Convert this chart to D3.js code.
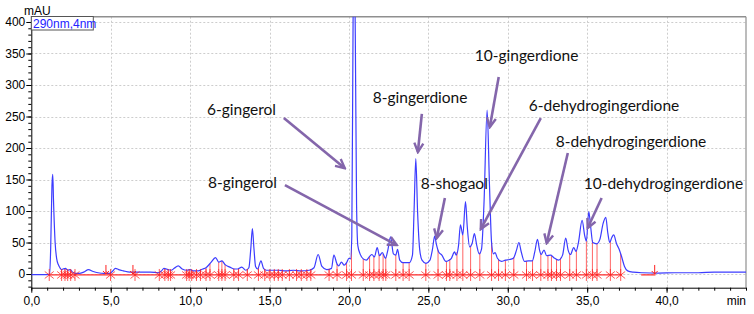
<!DOCTYPE html>
<html><head><meta charset="utf-8">
<script src="https://cdn.jsdelivr.net/npm/d3@7"></script>
<style>
html,body{margin:0;padding:0;background:#fff;}
svg{display:block;}
</style></head>
<body><svg id="chart" width="754" height="314"></svg>
<script>
// ---- data ----
const traceTime = [0.0,0.5,1.0,1.15,1.22,1.3,1.35,1.4,1.5,1.6,1.7,1.8,1.9,2.0,2.15,2.3,2.45,2.6,2.8,3.0,3.3,3.6,3.9,4.2,4.6,4.9,5.1,5.3,5.5,5.8,6.2,6.6,7.0,7.5,8.0,8.2,8.35,8.6,8.8,9.0,9.25,9.5,9.8,10.0,10.2,10.5,10.8,11.0,11.3,11.6,11.8,12.0,12.2,12.5,12.8,13.0,13.25,13.5,13.7,13.82,13.92,14.02,14.12,14.25,14.46,14.62,14.8,15.2,15.6,16.0,16.5,17.0,17.5,17.8,18.06,18.3,18.6,18.9,19.05,19.25,19.35,19.53,19.7,19.85,20.0,20.1,20.18,20.26,20.33,20.4,20.48,20.56,20.7,20.9,21.1,21.3,21.45,21.6,21.78,21.92,22.1,22.3,22.45,22.62,22.8,22.95,23.06,23.2,23.4,23.8,24.0,24.1,24.21,24.32,24.45,24.6,24.85,25.1,25.25,25.4,25.5,25.65,25.85,26.1,26.3,26.45,26.65,26.75,26.9,27.02,27.17,27.34,27.45,27.6,27.75,27.9,28.05,28.2,28.35,28.5,28.7,28.85,28.98,29.1,29.2,29.35,29.6,29.85,30.1,30.35,30.55,30.7,30.85,31.05,31.3,31.55,31.7,31.87,32.0,32.1,32.28,32.45,32.7,32.9,33.2,33.45,33.65,33.8,33.95,34.15,34.3,34.45,34.68,34.85,34.95,35.1,35.22,35.35,35.6,35.8,36.0,36.17,36.3,36.42,36.55,36.67,36.85,37.0,37.15,37.35,37.55,37.9,38.5,39.5,40.5,42.0,43.0,45.0];
const traceValue = [-1,-1,-1,0,40,140,158,115,50,24,15,10,7,8,9,6,7,3,1,1,3,7,4,2,1,1,4,9,7,5,3,3,3,3,2,5,9,7,6,9,13,8,6,7,5,5,8,10,18,26,19,21,15,11,8,8,11,6,10,40,72,40,12,8,21,9,6,6,6,5,6,5,6,10,31,12,7,9,30,16,13,19,14,18,25,24,60,400,520,380,110,45,32,24,22,28,31,27,42,29,34,25,38,59,32,30,39,22,18,18,30,100,183,100,40,22,17,22,38,60,48,35,30,20,22,25,35,30,45,78,62,115,75,43,48,64,45,32,40,110,260,140,50,32,34,25,20,22,23,25,38,50,35,20,21,21,35,55,38,31,38,29,30,26,22,30,57,38,31,42,36,50,85,60,52,99,75,50,48,55,80,90,65,50,58,62,48,40,29,12,5,3,2,1.5,2,2,3,3];
const peakMarkTimes = [1.13,1.91,2.12,2.29,2.48,2.75,4.99,6.53,8.06,8.41,8.62,8.77,9.78,9.94,10.1,10.4,10.65,11.0,11.25,11.8,12.0,12.2,12.75,13.05,13.6,14.3,14.7,15.02,15.3,15.55,15.8,16.25,16.7,17.0,17.35,17.6,18.75,19.25,19.85,20.16,20.9,21.3,21.57,21.9,22.15,22.32,22.95,23.41,23.79,24.84,25.61,26.14,26.35,26.8,27.17,27.66,28.24,28.98,29.42,29.85,30.38,31.18,31.56,32.08,32.53,32.75,33.07,33.32,33.9,34.32,34.95,35.33,35.62,36.46,37.11];
const eventArrowTimes = [4.7, 6.4, 39.25];
const baselineStarts = [1.1, 38.4];
const baselineEnds = [37.2, 39.3];
const xTickValues = [0,5,10,15,20,25,30,35,40];
const xTickLabels = ["0,0","5,0","10,0","15,0","20,0","25,0","30,0","35,0","40,0"];
const yTickValues = [0,50,100,150,200,250,300,350,400];
const annotationLabels = ["6-gingerol","8-gingerol","8-gingerdione","8-shogaol","10-gingerdione","6-dehydrogingerdione","8-dehydrogingerdione","10-dehydrogingerdione"];
// label anchor (time, mAU), arrow tail (time, mAU), arrow head (time, mAU)
const labelTime  = [11.06,11.12,21.5,24.52,27.92,31.32,33.02,34.78];
const labelValue = [252,136.5,271,135,338,258.7,202,135];
const arrowFromTime  = [15.9,15.97,24.59,26.04,29.43,32.08,33.78,35.91];
const arrowFromValue = [247.6,141,254,120.6,312.7,247.6,192,120.6];
const arrowToTime  = [19.74,23.01,24.34,25.53,28.87,28.3,32.45,35.03];
const arrowToValue = [168,46,193.6,57,233.3,71.4,49,73];

// ---- layout ----
const L = 31.3, R = 746, T = 16.7, B = 287.7;
const svg = d3.select("#chart");
const x = d3.scaleLinear().domain([0,45]).range([L,R]);
const y = d3.scaleLinear().domain([-21.7,408.4]).range([B,T]);
const AXF = "'Liberation Sans', Arial, sans-serif";
const baseV = -1.5;

const defs = svg.append("defs");
defs.append("clipPath").attr("id","plot")
  .append("rect").attr("x",L).attr("y",T).attr("width",R-L).attr("height",B-T);
defs.append("marker").attr("id","ah").attr("viewBox","0 0 12 12")
  .attr("refX",10).attr("refY",6).attr("markerWidth",12).attr("markerHeight",12)
  .attr("markerUnits","userSpaceOnUse").attr("orient","auto")
  .append("path").attr("d","M1,1.5 L10,6 L1,10.5").attr("fill","none")
  .attr("stroke","#8466ab").attr("stroke-width",2.4).attr("stroke-linejoin","miter");

// grid
const grid = svg.append("g").attr("stroke","#cdcdcd").attr("stroke-dasharray","2,2").attr("stroke-width",1);
grid.selectAll("line.v").data(xTickValues.filter(d=>d>0)).join("line")
  .attr("x1",d=>Math.round(x(d))+0.5).attr("x2",d=>Math.round(x(d))+0.5).attr("y1",T).attr("y2",B);
grid.selectAll("line.h").data(yTickValues).join("line")
  .attr("x1",L).attr("x2",R).attr("y1",d=>Math.round(y(d))+0.5).attr("y2",d=>Math.round(y(d))+0.5);

// borders (top/right)
svg.append("line").attr("x1",L).attr("x2",R).attr("y1",T).attr("y2",T).attr("stroke","#8f8f8f").attr("stroke-width",1.6);
svg.append("line").attr("x1",R).attr("x2",R).attr("y1",T).attr("y2",B).attr("stroke","#8f8f8f").attr("stroke-width",1.2);

// axes
svg.append("g").attr("transform",`translate(${L},0)`)
  .call(d3.axisLeft(y).tickValues(yTickValues).tickSize(5).tickSizeOuter(0).tickPadding(1).tickFormat(d3.format("d")));
const yMinor = svg.append("g").attr("transform",`translate(${L},0)`)
  .call(d3.axisLeft(y).tickValues(d3.range(-20,401,10)).tickSize(3).tickSizeOuter(0).tickFormat(""));
yMinor.select(".domain").remove();
svg.append("g").attr("transform",`translate(0,${B})`)
  .call(d3.axisBottom(x).tickValues(xTickValues).tickSize(5).tickSizeOuter(0).tickPadding(4).tickFormat((d,i)=>xTickLabels[i]));
const xMinor = svg.append("g").attr("transform",`translate(0,${B})`)
  .call(d3.axisBottom(x).tickValues(d3.range(0,46,1)).tickSize(3).tickSizeOuter(0).tickFormat(""));
xMinor.select(".domain").remove();
svg.selectAll(".tick text").attr("font-family",AXF).attr("font-size",12).attr("fill","#000");
svg.selectAll(".domain, .tick line").attr("stroke","#000");

svg.append("text").attr("x",24).attr("y",15).text("mAU").attr("font-family",AXF).attr("font-size",12);
svg.append("text").attr("x",R).attr("y",305).attr("text-anchor","end").text("min").attr("font-family",AXF).attr("font-size",12);

// helper: trace value at a time (from the trace data)
function valueAt(t){
  const i = d3.bisectLeft(traceTime, t);
  if (i <= 0) return traceValue[0];
  if (i >= traceTime.length) return traceValue[traceValue.length-1];
  const t0 = traceTime[i-1], t1 = traceTime[i];
  const f = (t - t0)/(t1 - t0);
  return traceValue[i-1] + f*(traceValue[i]-traceValue[i-1]);
}

const plot = svg.append("g").attr("clip-path","url(#plot)");

// red baseline segments
plot.selectAll("line.base").data(baselineStarts).join("line")
  .attr("x1",d=>x(d)).attr("x2",(d,i)=>x(baselineEnds[i]))
  .attr("y1",y(baseV)).attr("y2",y(baseV)).attr("stroke","#ff2b2b").attr("stroke-width",1.3);

// drop lines
plot.selectAll("line.drop").data(peakMarkTimes).join("line")
  .attr("x1",d=>x(d)).attr("x2",d=>x(d))
  .attr("y1",y(baseV)).attr("y2",d=>y(Math.max(valueAt(d),baseV)))
  .attr("stroke","#ff3030").attr("stroke-opacity",0.75).attr("stroke-width",1);

// trace
const line = d3.line().x((d,i)=>x(traceTime[i])).y(d=>y(d)).curve(d3.curveMonotoneX);
plot.append("path").datum(traceValue).attr("d",line)
  .attr("fill","none").attr("stroke","#3c3cff").attr("stroke-width",1.2);

// asterisk markers
plot.selectAll("path.mk").data(peakMarkTimes).join("path")
  .attr("transform",d=>`translate(${x(d)},${y(baseV)})`)
  .attr("d","M0,-6V6M-4.5,-3.5L4.5,3.5M-4.5,3.5L4.5,-3.5")
  .attr("stroke","#ff2020").attr("stroke-opacity",0.75).attr("stroke-width",1).attr("fill","none");

// event arrows
plot.selectAll("path.ev").data(eventArrowTimes).join("path")
  .attr("transform",d=>`translate(${x(d)},${y(baseV)})`)
  .attr("d","M0,-10V-1M-3,-4L0,-1L3,-4")
  .attr("stroke","#ff2020").attr("stroke-width",1).attr("fill","none");

// legend box
svg.append("rect").attr("x",L).attr("y",16.5).attr("width",62).attr("height",13.5)
  .attr("fill","#fff").attr("stroke","#555").attr("stroke-width",1);
svg.append("text").attr("x",33).attr("y",27.5).text("290nm,4nm")
  .attr("font-family",AXF).attr("font-size",12).attr("fill","#2323ff");

// annotations
const ann = svg.append("g");
ann.selectAll("line").data(annotationLabels).join("line")
  .attr("x1",(d,i)=>x(arrowFromTime[i])).attr("y1",(d,i)=>y(arrowFromValue[i]))
  .attr("x2",(d,i)=>x(arrowToTime[i])).attr("y2",(d,i)=>y(arrowToValue[i]))
  .attr("stroke","#8466ab").attr("stroke-width",2.6).attr("marker-end","url(#ah)");
ann.selectAll("text").data(annotationLabels).join("text")
  .attr("x",(d,i)=>x(labelTime[i])).attr("y",(d,i)=>y(labelValue[i]))
  .text(d=>d).attr("font-family","Lato, 'Open Sans', sans-serif").attr("font-size",15.5).attr("fill","#111");
</script>
</body></html>
